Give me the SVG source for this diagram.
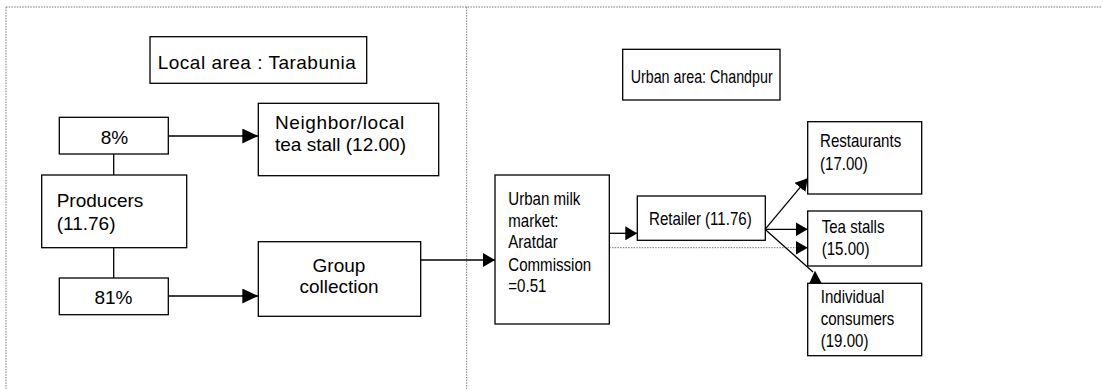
<svg xmlns="http://www.w3.org/2000/svg" width="1103" height="389" viewBox="0 0 1103 389">
<style>
.box{fill:#fff;stroke:#000;stroke-width:1.3}
.t{font-family:"Liberation Sans",Arial,sans-serif;font-size:19px;fill:#000}
.r{font-family:"Liberation Sans",Arial,sans-serif;font-size:18.5px;fill:#000}
.m{text-anchor:middle}
.ln{stroke:#000;stroke-width:1.3;fill:none}
.dot{stroke:#777;stroke-width:1;stroke-dasharray:1.5 1.2;fill:none}
</style>
<defs>
<marker id="ah" markerUnits="userSpaceOnUse" markerWidth="16" markerHeight="15" viewBox="0 0 16 15" refX="16" refY="7.5" orient="auto">
<path d="M0,0 L16,7.5 L0,15 z" fill="#000" stroke="none"/>
</marker>
<marker id="ahs" markerUnits="userSpaceOnUse" markerWidth="12" markerHeight="14" viewBox="0 0 12 14" refX="12" refY="7" orient="auto">
<path d="M0,0 L12,7 L0,14 z" fill="#000" stroke="none"/>
</marker>
</defs>
<g id="frame">
<line class="dot" x1="6" y1="7" x2="1101" y2="7"/>
<line class="dot" x1="6" y1="7" x2="6" y2="389"/>
<line class="dot" x1="466.7" y1="7" x2="466.7" y2="389"/>
</g>
<g id="connectors">
<line class="ln" x1="113.7" y1="154" x2="113.7" y2="175"/>
<line class="ln" x1="113.7" y1="247.7" x2="113.7" y2="278"/>
<line class="ln" x1="168.3" y1="136" x2="258.3" y2="136" marker-end="url(#ah)"/>
<line class="ln" x1="168.3" y1="296" x2="258.3" y2="296" marker-end="url(#ah)"/>
<line class="ln" x1="420.7" y1="260" x2="495" y2="260" marker-end="url(#ahs)"/>
<line class="ln" x1="609.3" y1="233.3" x2="637.3" y2="233.3" marker-end="url(#ahs)"/>
<line class="dot" x1="609.3" y1="247.7" x2="796" y2="247.7"/>
<path d="M796,241 L807.7,247.7 L796,254.4 z" fill="#000"/>
<line class="ln" x1="765" y1="229.3" x2="807.7" y2="178.3" marker-end="url(#ahs)"/>
<line class="ln" x1="765" y1="229.3" x2="807.7" y2="229.3" marker-end="url(#ahs)"/>
<line class="ln" x1="765" y1="229.3" x2="813" y2="272"/>
<path d="M815,270.7 L809.3,283.3 L821.7,283.3 z" fill="#000"/>
</g>
<g id="local-area">
<rect class="box" x="150" y="36.7" width="216.7" height="46.6"/>
<text class="t" x="157.7" y="69" letter-spacing="0.5">Local area : Tarabunia</text>
</g>
<g id="urban-area">
<rect class="box" x="622.7" y="49.3" width="157.3" height="50.7"/>
<text class="r" x="630.7" y="82.7" textLength="142" lengthAdjust="spacingAndGlyphs">Urban area: Chandpur</text>
</g>
<g id="pct8">
<rect class="box" x="59.3" y="117.3" width="109" height="36.7"/>
<text class="t m" x="114.5" y="144">8%</text>
</g>
<g id="neighbor">
<rect class="box" x="258.3" y="103.3" width="180.4" height="72.4"/>
<text class="t" x="275" y="129.3" letter-spacing="0.6">Neighbor/local</text>
<text class="t" x="275" y="150.7">tea stall (12.00)</text>
</g>
<g id="producers">
<rect class="box" x="41.7" y="175" width="145" height="72.7"/>
<text class="t" x="56.7" y="206.7">Producers</text>
<text class="t" x="56.7" y="230">(11.76)</text>
</g>
<g id="pct81">
<rect class="box" x="59.3" y="278" width="109" height="36.7"/>
<text class="t m" x="113.5" y="304">81%</text>
</g>
<g id="group-collection">
<rect class="box" x="258.3" y="241.7" width="162.4" height="74.6"/>
<text class="t m" x="339" y="271.7">Group</text>
<text class="t m" x="339" y="293.3">collection</text>
</g>
<g id="urban-milk-market">
<rect class="box" x="495" y="175" width="114.3" height="149"/>
<text class="r" transform="translate(508.3,205) scale(0.815,1)">Urban milk</text>
<text class="r" transform="translate(508.3,226.7) scale(0.815,1)">market:</text>
<text class="r" transform="translate(508.3,248.3) scale(0.815,1)">Aratdar</text>
<text class="r" transform="translate(508.3,270.7) scale(0.815,1)">Commission</text>
<text class="r" transform="translate(508.3,291.7) scale(0.815,1)">=0.51</text>
</g>
<g id="retailer">
<rect class="box" x="637.3" y="196" width="128" height="44.3"/>
<text class="r" transform="translate(649,225) scale(0.815,1)">Retailer (11.76)</text>
</g>
<g id="restaurants">
<rect class="box" x="807.7" y="121.7" width="114" height="72.3"/>
<text class="r" transform="translate(820,146.7) scale(0.815,1)">Restaurants</text>
<text class="r" transform="translate(820,170) scale(0.815,1)">(17.00)</text>
</g>
<g id="tea-stalls">
<rect class="box" x="807.7" y="211" width="114" height="55"/>
<text class="r" transform="translate(821.7,232.7) scale(0.815,1)">Tea stalls</text>
<text class="r" transform="translate(821.7,255) scale(0.815,1)">(15.00)</text>
</g>
<g id="individual-consumers">
<rect class="box" x="807.7" y="283.3" width="114" height="72.4"/>
<text class="r" transform="translate(820.7,302.7) scale(0.815,1)">Individual</text>
<text class="r" transform="translate(820.7,325) scale(0.815,1)">consumers</text>
<text class="r" transform="translate(820.7,346.7) scale(0.815,1)">(19.00)</text>
</g>
</svg>
